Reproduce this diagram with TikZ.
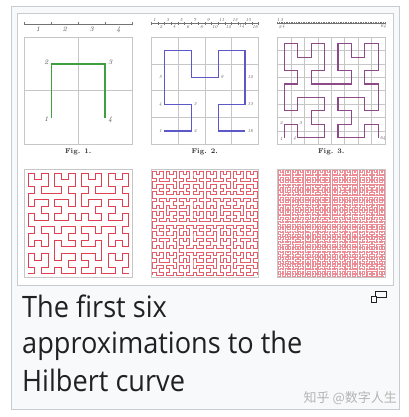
\documentclass[tikz,border=0pt]{standalone}
\usepackage{fontspec}
\newfontfamily\capfont[FakeStretch=0.92]{Open Sans}
\newfontfamily\cjkfont{Noto Sans CJK SC}

\definecolor{framegray}{HTML}{C8CCD1}
\definecolor{pagegray}{HTML}{F8F9FA}
\definecolor{textdark}{HTML}{202122}
\definecolor{gridgray}{HTML}{C6C6C6}
\definecolor{hgreen}{HTML}{3FA03F}
\definecolor{hblue}{HTML}{5C58C8}
\definecolor{hplum}{HTML}{8C4A86}
\definecolor{hred}{HTML}{E0404F}
\definecolor{markgray}{HTML}{B4B4B4}

% turtle for the Hilbert curve: A -> +BF-AFA-FB+ , B -> -AF+BFB+FA-
\newcount\hdx \newcount\hdy \newcount\htmp
\newdimen\hilx \newdimen\hily \newdimen\hstep
\def\hleft{\htmp=\hdx \hdx=-\hdy \hdy=\htmp\relax}
\def\hright{\htmp=\hdx \hdx=\hdy \hdy=-\htmp\relax}
\def\hfwd{\advance\hilx by \hdx\hstep \advance\hily by \hdy\hstep \pgfpathlineto{\pgfqpoint{\hilx}{\hily}}}
\def\hA#1{\ifnum#1>0 \expandafter\hAx\expandafter{\the\numexpr#1-1\relax}\fi}
\def\hAx#1{\hleft\hB{#1}\hfwd\hright\hA{#1}\hfwd\hA{#1}\hright\hfwd\hB{#1}\hleft}
\def\hB#1{\ifnum#1>0 \expandafter\hBx\expandafter{\the\numexpr#1-1\relax}\fi}
\def\hBx#1{\hright\hA{#1}\hfwd\hleft\hB{#1}\hfwd\hB{#1}\hleft\hfwd\hA{#1}\hright}
% order, start x, start y, step (all in pt)
\newcommand\hilbert[4]{\hilx=#2pt\relax \hily=#3pt\relax \hstep=#4pt\relax
  \hdx=1 \hdy=0 \pgfpathmoveto{\pgfqpoint{\hilx}{\hily}}\hA{#1}}

\begin{document}
\begin{tikzpicture}[x=1pt, y=1pt,
  frm/.style={draw=gridgray, line width=0.6pt},
  gridline/.style={gridgray, line width=0.5pt},
  ruler/.style={black!55, line width=0.4pt},
  curve/.style={line join=miter, line cap=butt},
  num/.style={font=\fontsize{7}{7}\selectfont\itshape, inner sep=1pt, text=black!70},
  smallnum/.style={font=\fontsize{4.5}{4.5}\selectfont\itshape, inner sep=0.4pt, text=black!70},
  figlab/.style={font=\fontsize{7}{8}\selectfont\bfseries, inner sep=0pt, text=black!80},
  capline/.style={anchor=base west, inner sep=0pt, text=textdark, font=\capfont\fontsize{29.5}{36}\selectfont}]
\useasboundingbox (0,0) rectangle (408,417);
\fill[white] (0,0) rectangle (408,417);
\draw[framegray, fill=pagegray, line width=0.8pt] (11,8) rectangle (399,411);
\draw[framegray, fill=white, line width=0.8pt] (17,132) rectangle (393,404);

% Fig. 1
\draw[ruler] (24.5,393) -- (132,393);
\foreach \i in {0,...,4} \draw[ruler] (24.5+\i*26.875,391.5) -- ++(0,3);
\foreach \i in {1,...,4} \node[num] (ra\i) at (24.5+\i*26.875-13.4375,387.5) {\i};
\draw[gridline] (78.25,272.5) -- ++(0,107.5) (24.5,326.25) -- ++(107.5,0);
\draw[frm] (24.5,272.5) rectangle ++(107.5,107.5);
\draw[curve, draw=hgreen, line width=1.3pt] \pgfextra{\hilbert{1}{51.375}{299.375}{53.75}};
\node[num, anchor=east] (pa1) at (49.5,297.5) {1};
\node[num, anchor=east] (pa2) at (49.5,355) {2};
\node[num, anchor=west] (pa3) at (107,355) {3};
\node[num, anchor=west] (pa4) at (107,297.5) {4};
\node[figlab] (fig1) at (78.25,265) {Fig. 1.};

% Fig. 2
\draw[ruler] (151,393.5) -- (258.5,393.5);
\foreach \i in {0,...,16} \draw[ruler] (151+\i*6.71875,392.3) -- ++(0,2.4);
\foreach \i in {1,3,...,15} \node[smallnum] (rb\i) at (151+\i*6.71875-3.359375,397.2) {\i};
\foreach \i in {2,4,...,16} \node[smallnum] (rb\i) at (151+\i*6.71875-3.359375,390.2) {\i};
\foreach \i in {1,2,3} \draw[gridline] (151+\i*26.875,272.5) -- ++(0,107.5) (151,272.5+\i*26.875) -- ++(107.5,0);
\draw[frm] (151,272.5) rectangle ++(107.5,107.5);
\draw[curve, draw=hblue, line width=1.2pt] \pgfextra{\hilbert{2}{164.4375}{285.9375}{26.875}};
\node[smallnum, anchor=east] (pb1) at (162.5,285.9) {1};
\node[smallnum, anchor=west] (pb2) at (193.2,285.9) {2};
\node[smallnum, anchor=west] (pb3) at (193.2,312.8) {3};
\node[smallnum, anchor=east] (pb4) at (162.5,312.8) {4};
\node[smallnum, anchor=east] (pb5) at (162.5,339.7) {5};
\node[smallnum, anchor=west] (pb9) at (220.1,339.7) {9};
\node[smallnum, anchor=west] (pb12) at (247,339.7) {12};
\node[smallnum, anchor=west] (pb13) at (247,312.8) {13};
\node[smallnum, anchor=west] (pb16) at (247,285.9) {16};
\node[figlab] (fig2) at (204.75,265) {Fig. 2.};

% Fig. 3
\draw[ruler] (277.5,393.5) -- (385,393.5);
\foreach \i in {0,...,64} \draw[ruler, line width=0.3pt] (277.5+\i*1.6796875,392.5) -- ++(0,2);
\node[smallnum] (rc1) at (278.3,397) {1};
\node[smallnum] (rc3) at (281.7,397) {3};
\node[smallnum] (rc2) at (280,390.3) {2};
\node[smallnum] (rc4) at (283.4,390.3) {4};
\node[smallnum] (rc64) at (383.3,390.3) {64};
\foreach \i in {1,...,7} \draw[gridline] (277.5+\i*13.4375,272.5) -- ++(0,107.5) (277.5,272.5+\i*13.4375) -- ++(107.5,0);
\draw[frm] (277.5,272.5) rectangle ++(107.5,107.5);
\draw[curve, draw=hplum, line width=1.1pt] \pgfextra{\hilbert{3}{284.21875}{279.21875}{13.4375}};
\node[smallnum, anchor=east] (pc1) at (283.2,278.2) {1};
\node[smallnum, anchor=east] (pc2) at (283.2,293.7) {2};
\node[smallnum, anchor=west] (pc3) at (298.8,293.7) {3};
\node[smallnum, anchor=east] (pc4) at (296.6,278.2) {4};
\node[smallnum, anchor=west] (pc64) at (379.4,278.2) {64};
\node[figlab] (fig3) at (331.25,265) {Fig. 3.};

% orders 4, 5, 6
\draw[frm] (24.5,140) rectangle ++(107.5,107.5);
\draw[frm] (151,140) rectangle ++(107.5,107.5);
\draw[frm] (277.5,140) rectangle ++(107.5,107.5);
\draw[curve, draw=hred, line width=0.65pt] \pgfextra{\hilbert{4}{27.859375}{143.359375}{6.71875}};
\draw[curve, draw=hred!85, line width=0.5pt] \pgfextra{\hilbert{5}{152.6796875}{141.6796875}{3.359375}};
\draw[curve, draw=hred!60, line width=0.38pt] \pgfextra{\hilbert{6}{278.33984375}{140.83984375}{1.6796875}};

% caption
\draw[textdark, line width=0.8pt] (375.5,119.5) rectangle (386,126);
\draw[textdark, line width=0.8pt, fill=pagegray] (371,115) rectangle (376.5,120.5);
\node[capline] (cap1) at (22,99) {The first six};
\node[capline] (cap2) at (22,63) {approximations to the};
\node[capline] (cap3) at (22,25) {Hilbert curve};
\node[anchor=base east, inner sep=0pt, text=markgray, font=\cjkfont\fontsize{13}{13}\selectfont] (mark) at (397,14) {知乎 @数字人生};
\end{tikzpicture}
\end{document}
